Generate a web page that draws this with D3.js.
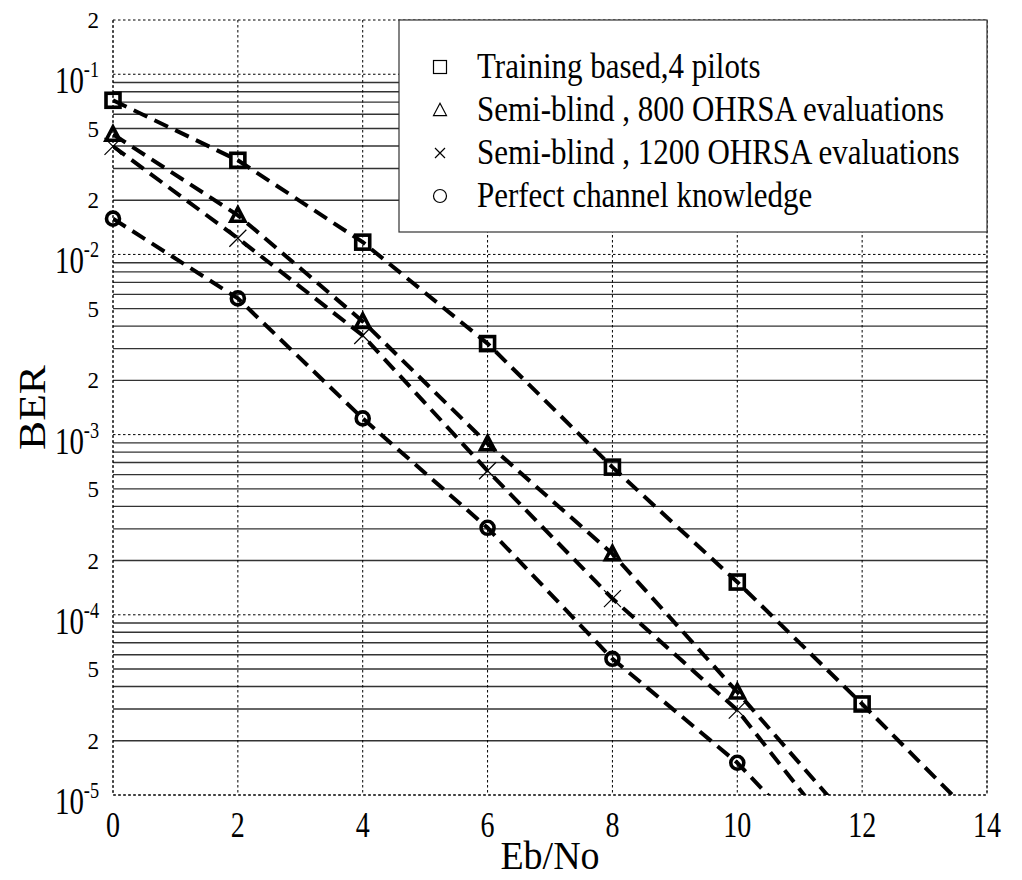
<!DOCTYPE html>
<html>
<head>
<meta charset="utf-8">
<script src="https://cdn.jsdelivr.net/npm/d3@7"></script>
<style>
  body { margin: 0; background: #fff; }
  svg text { font-family: "Liberation Serif", "Times New Roman", serif; fill: #000; }
</style>
</head>
<body>
<div id="chart"></div>
<script>
// Eb/No values (dB) and BER per scheme
const ebno = [0, 2, 4, 6, 8, 10, 12, 14];
const berTraining = [0.0717, 0.0333, 0.0117, 0.0032, 6.6e-4, 1.52e-4, 3.2e-5, 6.4e-6];
const berSemi800 = [0.0464, 0.0165, 0.00425, 8.9e-4, 2.18e-4, 3.73e-5, 6.0e-6];
const berSemi1200 = [0.0398, 0.0123, 0.00355, 6.3e-4, 1.23e-4, 2.96e-5, 3.9e-6];
const berPerfect = [0.0158, 0.0057, 0.00123, 3.04e-4, 5.7e-5, 1.51e-5, 2.8e-6];

const seriesNames = [
  "Training based,4 pilots",
  "Semi-blind , 800 OHRSA evaluations",
  "Semi-blind , 1200 OHRSA evaluations",
  "Perfect channel knowledge"
];
const seriesMarkers = ["square", "triangle", "cross", "circle"];

const xTicks = [0, 2, 4, 6, 8, 10, 12, 14];
const decadeExps = [-1, -2, -3, -4, -5];
const minorLabels = [0.2, 0.05, 0.02, 0.005, 0.002, 5e-4, 2e-4, 5e-5, 2e-5];

const W = 1022, H = 880;
const margin = {top: 20, right: 35, bottom: 85, left: 113};

const svg = d3.select("#chart").append("svg")
  .attr("width", W)
  .attr("height", H);

const x = d3.scaleLinear().domain([0, 14]).range([margin.left, W - margin.right]);
const y = d3.scaleLog().domain([1e-5, 0.2]).range([H - margin.bottom, margin.top]);

const x0 = x.range()[0], x1 = x.range()[1];
const yTop = y.range()[1], yBot = y.range()[0];

// minor grid (solid) at 2..9 x 10^k
const minorVals = [];
for (let k = -5; k <= -2; k++) {
  for (let m = 2; m <= 9; m++) minorVals.push(m * Math.pow(10, k));
}
svg.append("g").selectAll("line")
  .data(minorVals)
  .join("line")
  .attr("x1", x0).attr("x2", x1)
  .attr("y1", d => y(d)).attr("y2", d => y(d))
  .attr("stroke", "#333")
  .attr("stroke-width", 1.4);

// major grid (dotted)
svg.append("g").selectAll("line")
  .data(decadeExps)
  .join("line")
  .attr("x1", x0).attr("x2", x1)
  .attr("y1", d => y(Math.pow(10, d))).attr("y2", d => y(Math.pow(10, d)))
  .attr("stroke", "#000")
  .attr("stroke-width", 1)
  .attr("stroke-dasharray", "2.5,2.5");

svg.append("g").selectAll("line")
  .data(xTicks)
  .join("line")
  .attr("x1", d => x(d)).attr("x2", d => x(d))
  .attr("y1", yTop).attr("y2", yBot)
  .attr("stroke", "#000")
  .attr("stroke-width", 1)
  .attr("stroke-dasharray", "2.5,2.5");

// dotted frame
svg.append("rect")
  .attr("x", x0).attr("y", yTop)
  .attr("width", x1 - x0).attr("height", yBot - yTop)
  .attr("fill", "none")
  .attr("stroke", "#000")
  .attr("stroke-width", 1)
  .attr("stroke-dasharray", "2.5,2.5");

// x tick labels
svg.append("g").selectAll("text")
  .data(xTicks)
  .join("text")
  .attr("transform", d => `translate(${x(d)},837) scale(0.8,1)`)
  .attr("text-anchor", "middle")
  .style("font-size", "35px")
  .text(d => d);

// y decade labels 10^k
const decLab = svg.append("g").selectAll("text")
  .data(decadeExps)
  .join("text")
  .attr("transform", d => `translate(99,${y(Math.pow(10, d)) + 19}) scale(0.76,1)`)
  .attr("text-anchor", "end")
  .style("font-size", "38px");
decLab.append("tspan").text("10");
decLab.append("tspan")
  .attr("dy", -16)
  .style("font-size", "24px")
  .text(d => d);

// y minor labels 2, 5
svg.append("g").selectAll("text")
  .data(minorLabels)
  .join("text")
  .attr("x", 99)
  .attr("y", d => y(d))
  .attr("dy", "0.35em")
  .attr("text-anchor", "end")
  .style("font-size", "23px")
  .text(d => String(d).replace(/[0.]|e.*$/g, "").charAt(0));

// axis titles
svg.append("text")
  .attr("transform", `translate(${(x0 + x1) / 2},869) scale(0.95,1)`)
  .attr("text-anchor", "middle")
  .style("font-size", "40px")
  .text("Eb/No");

svg.append("text")
  .attr("transform", `translate(45,${(yTop + yBot) / 2}) rotate(-90) scale(1.12,1)`)
  .attr("text-anchor", "middle")
  .style("font-size", "39px")
  .text("BER");

// marker shapes
function drawMarker(sel, type, s, sw) {
  if (type === "square") {
    sel.append("rect").attr("x", -s).attr("y", -s).attr("width", 2 * s).attr("height", 2 * s)
      .attr("fill", "none").attr("stroke", "#000").attr("stroke-width", sw);
  } else if (type === "triangle") {
    sel.append("path").attr("d", `M0,${-s * 1.05}L${s},${s * 0.85}L${-s},${s * 0.85}Z`)
      .attr("fill", "none").attr("stroke", "#000").attr("stroke-width", sw)
      .attr("stroke-linejoin", "miter");
  } else if (type === "cross") {
    sel.append("path").attr("d", `M${-s},${-s}L${s},${s}M${-s},${s}L${s},${-s}`)
      .attr("fill", "none").attr("stroke", "#000").attr("stroke-width", 1.2);
  } else {
    sel.append("circle").attr("r", s)
      .attr("fill", "none").attr("stroke", "#000").attr("stroke-width", sw);
  }
}

// series
svg.append("clipPath").attr("id", "plotClip")
  .append("rect").attr("x", x0).attr("y", yTop).attr("width", x1 - x0).attr("height", yBot - yTop);

const allSeries = [berTraining, berSemi800, berSemi1200, berPerfect].map((vals, i) => ({
  name: seriesNames[i],
  marker: seriesMarkers[i],
  points: vals.map((v, j) => ({x: ebno[j], y: v}))
}));

const line = d3.line().x(d => x(d.x)).y(d => y(d.y));

svg.append("g").attr("clip-path", "url(#plotClip)")
  .selectAll("path")
  .data(allSeries)
  .join("path")
  .attr("d", d => line(d.points))
  .attr("fill", "none")
  .attr("stroke", "#000")
  .attr("stroke-width", 4)
  .attr("stroke-dasharray", "15,8");

allSeries.forEach(s => {
  const pts = s.points.filter(p => p.y >= y.domain()[0]);
  const size = s.marker === "cross" ? 8.5 : (s.marker === "circle" ? 6.5 : 7);
  svg.append("g").selectAll("g")
    .data(pts)
    .join("g")
    .attr("transform", p => `translate(${x(p.x)},${y(p.y)})`)
    .each(function() { drawMarker(d3.select(this), s.marker, size, 3.6); });
});

// legend
const legend = svg.append("g");
legend.append("rect")
  .attr("x", 399).attr("y", yTop)
  .attr("width", x1 - 399).attr("height", 212)
  .attr("fill", "#fff")
  .attr("stroke", "#333")
  .attr("stroke-width", 1.2);

const items = legend.selectAll("g.item")
  .data(allSeries)
  .join("g")
  .attr("class", "item")
  .attr("transform", (d, i) => `translate(440,${67 + i * 43})`);

items.each(function(d) {
  drawMarker(d3.select(this), d.marker, d.marker === "cross" ? 5 : 6.5, 1.2);
});

items.append("text")
  .attr("transform", "translate(37,11) scale(0.885,1)")
  .style("font-size", "35px")
  .text(d => d.name);
</script>
</body>
</html>
